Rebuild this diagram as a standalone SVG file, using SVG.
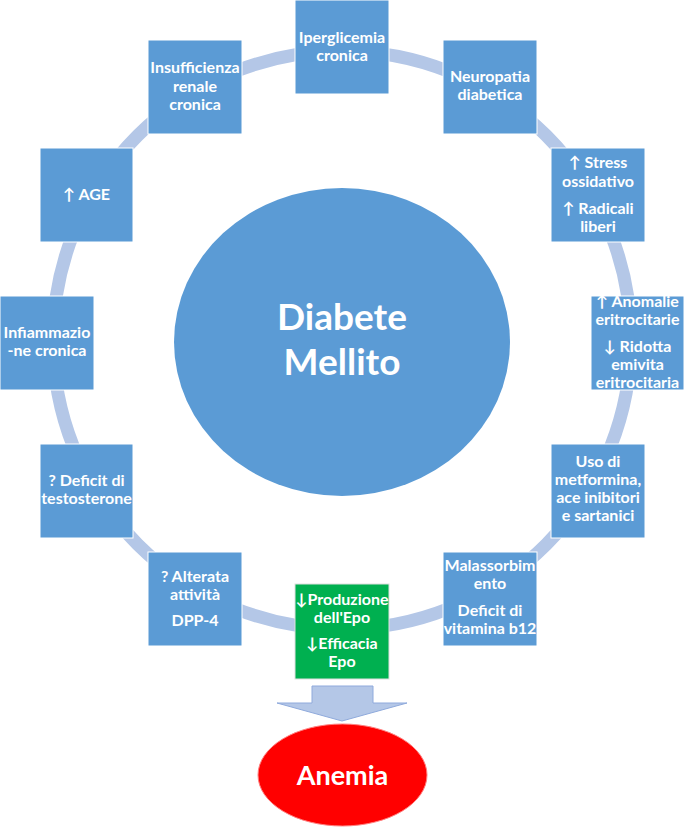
<svg xmlns="http://www.w3.org/2000/svg" width="685" height="828" viewBox="0 0 685 828">
<style>
.box{fill:#5B9BD5;stroke:#ffffff;stroke-width:1}
.green{fill:#00B050;stroke:#e0e0e0;stroke-width:1}
.t{font-family:Lato,"Open Sans","DejaVu Sans",sans-serif;font-weight:bold;font-size:16px;fill:#ffffff;text-anchor:middle}
.big{font-size:37px}
.anem{font-size:27px}
</style>
<rect width="685" height="828" fill="#ffffff"/>
<g id="connectors">
<circle cx="342" cy="340" r="289" fill="none" stroke="#B4C7E7" stroke-width="13"/>
<polygon points="312,686 373,686 373,703 407,703 342,721 277,703 312,703" fill="#B4C7E7" stroke="#8FAADC" stroke-width="1"/>
</g>
<g id="diabete">
<ellipse cx="342" cy="342" rx="168" ry="154" fill="#5B9BD5"/>
<text class="t big" x="342" y="330">Diabete</text>
<text class="t big" x="342" y="375">Mellito</text>
</g>
<g id="iperglicemia">
<rect class="box" x="295" y="0" width="94" height="94"/>
<text class="t" x="342" y="43">Iperglicemia</text>
<text class="t" x="342" y="61">cronica</text>
</g>
<g id="neuropatia">
<rect class="box" x="443" y="40" width="94" height="94"/>
<text class="t" x="490" y="82">Neuropatia</text>
<text class="t" x="490" y="100">diabetica</text>
</g>
<g id="stress">
<rect class="box" x="551" y="148" width="94" height="94"/>
<text class="t" x="598" y="168">↑ Stress</text>
<text class="t" x="598" y="187">ossidativo</text>
<text class="t" x="598" y="214">↑ Radicali</text>
<text class="t" x="598" y="232">liberi</text>
</g>
<g id="anomalie">
<rect class="box" x="591" y="296" width="93" height="94"/>
<text class="t" x="637.5" y="307">↑ Anomalie</text>
<text class="t" x="637.5" y="325">eritrocitarie</text>
<text class="t" x="637.5" y="352">↓ Ridotta</text>
<text class="t" x="637.5" y="370">emivita</text>
<text class="t" x="637.5" y="388">eritrocitaria</text>
</g>
<g id="uso">
<rect class="box" x="551" y="444" width="94" height="94"/>
<text class="t" x="598" y="467">Uso di</text>
<text class="t" x="598" y="485">metformina,</text>
<text class="t" x="598" y="503">ace inibitori</text>
<text class="t" x="598" y="521">e sartanici</text>
</g>
<g id="malassorbimento">
<rect class="box" x="443" y="552" width="94" height="94"/>
<text class="t" x="490" y="571">Malassorbim</text>
<text class="t" x="490" y="589">ento</text>
<text class="t" x="490" y="616">Deficit di</text>
<text class="t" x="490" y="634">vitamina b12</text>
</g>
<g id="epo">
<rect class="green" x="295" y="584" width="94" height="95"/>
<text class="t" x="342" y="605">↓Produzione</text>
<text class="t" x="342" y="623">dell'Epo</text>
<text class="t" x="342" y="649">↓Efficacia</text>
<text class="t" x="342" y="667">Epo</text>
</g>
<g id="dpp4">
<rect class="box" x="148" y="552" width="94" height="94"/>
<text class="t" x="195" y="582">? Alterata</text>
<text class="t" x="195" y="600">attività</text>
<text class="t" x="195" y="626">DPP-4</text>
</g>
<g id="testosterone">
<rect class="box" x="40" y="444" width="93" height="94"/>
<text class="t" x="86.5" y="486">? Deficit di</text>
<text class="t" x="86.5" y="504">testosterone</text>
</g>
<g id="infiammazione">
<rect class="box" x="0" y="296" width="94" height="94"/>
<text class="t" x="47" y="338">Infiammazio</text>
<text class="t" x="47" y="356">-ne cronica</text>
</g>
<g id="age">
<rect class="box" x="40" y="148" width="93" height="94"/>
<text class="t" x="86.5" y="200">↑ AGE</text>
</g>
<g id="insufficienza">
<rect class="box" x="148" y="40" width="94" height="94"/>
<text class="t" x="195" y="73">Insufficienza</text>
<text class="t" x="195" y="91.5">renale</text>
<text class="t" x="195" y="110">cronica</text>
</g>
<g id="anemia">
<ellipse cx="342.5" cy="775" rx="84.5" ry="51" fill="#FF0000" stroke="#ff8080" stroke-width="1"/>
<text class="t anem" x="342.5" y="785">Anemia</text>
</g>
</svg>
